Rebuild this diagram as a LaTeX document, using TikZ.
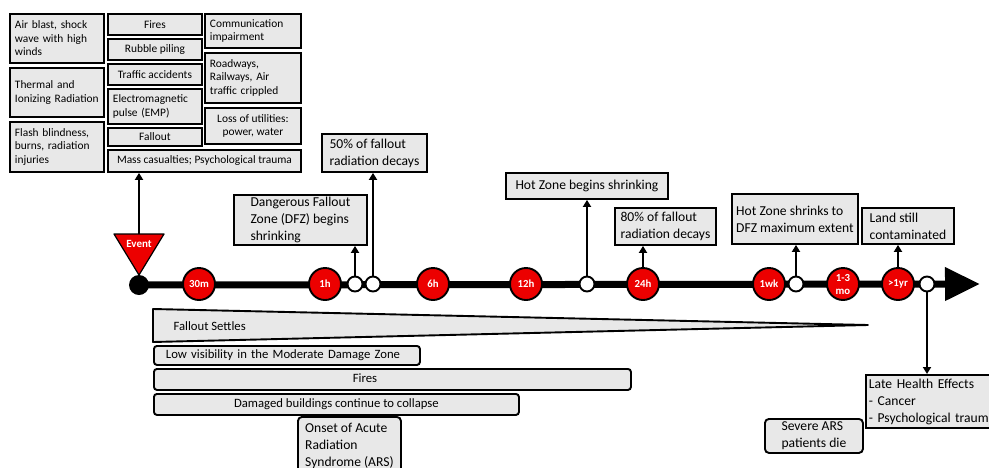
\documentclass[tikz,border=0pt]{standalone}
\usepackage{fontspec}
\setmainfont{Carlito}
\usetikzlibrary{arrows.meta}
\definecolor{boxgray}{RGB}{232,232,232}
\definecolor{tickred}{RGB}{236,0,0}
\tikzset{
	box/.style={draw, line width=1.9pt, fill=boxgray, anchor=north west, inner xsep=5pt, inner ysep=1pt},
	topbox/.style={box, font=\fontsize{11.4}{13.5}\selectfont},
	labelbox/.style={box, inner xsep=3pt, font=\fontsize{13.6}{17}\selectfont, align=left},
	bar/.style={box, rounded corners=3pt, font=\fontsize{12.7}{15}\selectfont},
	tick/.style={circle, draw, line width=1.9pt, fill=tickred, text=white, minimum size=32pt, inner sep=0pt, align=center, font=\fontsize{10.8}{13}\selectfont\bfseries},
	ring/.style={circle, draw, line width=1.9pt, fill=white, minimum size=15pt, inner sep=0pt},
	pointer/.style={line width=1.9pt, -{Triangle[length=7pt,width=8pt]}}
}
\begin{document}
\begin{tikzpicture}[x=1pt,y=-1pt]
		\useasboundingbox (0,0) rectangle (989,467);
		\clip (0,0) rectangle (989,467);
		\node[topbox, text width=84pt, minimum height=49pt, align=left] (airblast) at (9,13) {Air blast, shock\\wave with high\\winds};
		\node[topbox, text width=84pt, minimum height=49pt, align=left] (thermal) at (9,67) {Thermal and\\Ionizing Radiation};
		\node[topbox, text width=84pt, minimum height=50pt, align=left] (flash) at (9,121) {Flash blindness,\\burns, radiation\\injuries};
		\node[topbox, minimum width=94pt, minimum height=21pt] (firesbox) at (107,13) {Fires};
		\node[topbox, minimum width=94pt, minimum height=21pt] (rubble) at (107,38) {Rubble piling};
		\node[topbox, minimum width=94pt, minimum height=21pt] (traffic) at (107,63) {Traffic accidents};
		\node[topbox, text width=84pt, minimum height=35pt, align=left] (emp) at (107,88) {Electromagnetic\\pulse (EMP)};
		\node[topbox, minimum width=94pt, minimum height=18pt] (falloutbox) at (107,127) {Fallout};
		\node[topbox, minimum width=193pt, minimum height=22pt] (mass) at (107,149) {Mass casualties; Psychological trauma};
		\node[topbox, text width=86pt, minimum height=34pt, align=left] (comm) at (204,13) {Communication\\impairment};
		\node[topbox, text width=86pt, minimum height=50pt, align=left] (roads) at (204,52) {Roadways,\\Railways, Air\\traffic crippled};
		\node[topbox, minimum width=96pt, minimum height=36pt, align=center] (utilities) at (204,107) {Loss of utilities:\\power, water};

		\node[labelbox, minimum width=133pt, minimum height=50pt] (dfz) at (233,194) {Dangerous Fallout\\Zone (DFZ) begins\\shrinking};
		\node[labelbox, minimum width=105pt, minimum height=38pt] (half) at (321,133) {50\% of fallout\\radiation decays};
		\node[labelbox, minimum width=162pt, minimum height=26pt] (hotbegin) at (505,172) {Hot Zone begins shrinking};
		\node[labelbox, minimum width=101pt, minimum height=37pt] (eighty) at (614,207) {80\% of fallout\\radiation decays};
		\node[labelbox, minimum width=126pt, minimum height=50pt] (hotshrink) at (731,193) {Hot Zone shrinks to\\DFZ maximum extent};
		\node[labelbox, minimum width=92pt, minimum height=36pt] (land) at (861,207) {Land still\\contaminated};
		\node[labelbox, text width=134pt, minimum height=53pt] (late) at (865,374) {Late Health Effects\\- Cancer\\- Psychological trauma};
		\node[labelbox, rounded corners=4pt, minimum width=98pt, minimum height=34pt] (severe) at (764,418) {Severe ARS\\patients die};
		\node[labelbox, rounded corners=4pt, minimum width=103pt, minimum height=58pt] (onset) at (297,416) {Onset of Acute\\Radiation\\Syndrome (ARS)};

		\draw[line width=1.9pt, line join=round, fill=boxgray] (153,309) -- (868,325) -- (153,342) -- cycle;
		\node[anchor=west, font=\fontsize{12.7}{15}\selectfont] (settles) at (170,326) {Fallout Settles};
		\node[bar, text width=242pt, inner xsep=12pt, minimum height=19pt, align=left] (lowvis) at (153,345) {Low visibility in the Moderate Damage Zone};
		\node[bar, minimum width=477pt, minimum height=21pt] (firesbar) at (153,368) {};
		\node[font=\fontsize{12.7}{15}\selectfont] (firestext) at (365,378.5) {Fires};
		\node[bar, minimum width=365pt, minimum height=21pt] (damaged) at (153,393) {Damaged buildings continue to collapse};

		\coordinate (tlend) at (980,284);
		\node[circle, fill=black, minimum size=20pt, inner sep=0pt] (eventdot) at (139,285) {};
		\draw[line width=7pt, -{Triangle[length=35pt,width=32pt]}] (eventdot.center) -- (tlend);
		\node[tick] (t30m) at (199,284) {30m};
		\node[tick] (t1h) at (325,284) {1h};
		\node[tick] (t6h) at (433,284) {6h};
		\node[tick] (t12h) at (526,284) {12h};
		\node[tick] (t24h) at (643,284) {24h};
		\node[tick] (t1wk) at (769,284) {1wk};
		\node[tick] (tmo) at (843,284) {1-3\\mo};
		\node[tick] (tyr) at (898,284) {>1yr};
		\node[ring] (r1) at (355,284) {};
		\node[ring] (r2) at (373,284) {};
		\node[ring] (r3) at (587,284) {};
		\node[ring] (r4) at (796,284) {};
		\node[ring] (r5) at (927,284) {};

		\coordinate (eventtop) at (139,234);
		\draw[line width=1.2pt, line join=round, fill=tickred] (eventtop) ++(-25,0) -- ++(50,0) -- (139,275) -- cycle;
		\node[text=white, font=\fontsize{11}{12}\selectfont\bfseries] (eventtext) at (139,244) {Event};

		\draw[pointer] (eventtop) -- (eventtop |- mass.south);
		\draw[pointer] (r1.north) -- (r1.north |- dfz.south);
		\draw[pointer] (r2.north) -- (r2.north |- half.south);
		\draw[pointer] (r3.north) -- (r3.north |- hotbegin.south);
		\draw[pointer] (t24h.north) -- (t24h.north |- eighty.south);
		\draw[pointer] (r4.north) -- (r4.north |- hotshrink.south);
		\draw[pointer] (tyr.north) -- (tyr.north |- land.south);
		\draw[pointer] (r5.south) -- (r5.south |- late.north);
	\end{tikzpicture}
\end{document}
